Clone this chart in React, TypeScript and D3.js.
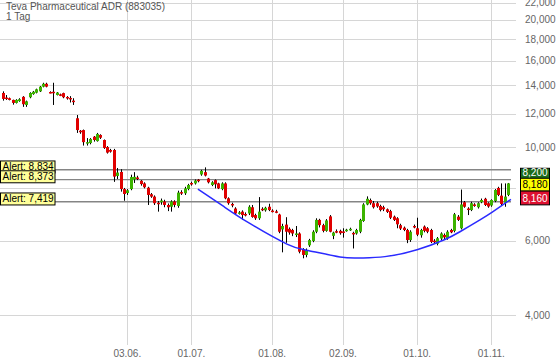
import * as d3 from "d3";

const opens = [
  13.43, 13.1, 13.05, 12.93, 12.72, 12.85, 13.15, 12.58, 13.12, 13.35, 13.45, 13.55, 13.9, 14.12, 13.5, 13.52,
  13.28, 13.33, 13.42, 13.14, 13.07, 12.88, 11.7, 10.93, 10.97, 10.25, 10.22, 10.58, 10.33, 10.68, 10.39, 10.0,
  9.84, 9.84, 8.54, 8.73, 7.95, 7.78, 7.95, 8.38, 8.47, 8.32, 8.2, 8.01, 7.73, 7.63, 7.38, 7.4,
  7.43, 7.29, 7.22, 7.43, 7.25, 7.82, 7.77, 7.95, 8.22, 8.2, 8.37, 8.61, 8.72, 8.42, 8.13, 8.35,
  8.2, 7.95, 8.2, 7.56, 7.33, 7.15, 6.97, 7.03, 6.94, 6.96, 7.2, 6.9, 6.78, 7.14, 7.08, 7.22,
  7.07, 7.04, 6.92, 6.38, 6.55, 6.4, 6.36, 6.22, 6.24, 5.72, 5.55, 5.85, 5.99, 6.3, 6.72, 6.53,
  6.33, 6.85, 6.16, 6.32, 6.33, 6.31, 6.34, 6.38, 6.26, 6.24, 6.3, 6.68, 7.31, 7.49, 7.36, 7.36,
  7.25, 7.2, 7.12, 7.05, 6.84, 6.78, 6.53, 6.44, 6.36, 6.02, 6.5, 6.42, 6.18, 6.48, 6.42, 6.36,
  6.0, 5.9, 6.07, 6.19, 6.08, 6.36, 6.33, 6.84, 6.42, 7.4, 7.15, 7.09, 7.31, 7.2, 7.4, 7.54,
  7.36, 7.27, 7.45, 8.0, 7.67, 7.38, 7.7,
];
const highs = [
  13.55, 13.28, 13.1, 12.95, 12.98, 13.05, 13.2, 12.88, 13.48, 13.58, 13.75, 13.95, 14.2, 14.2, 13.55, 14.2,
  13.5, 13.38, 13.45, 13.2, 13.2, 13.05, 11.91, 10.97, 11.0, 10.5, 10.5, 10.62, 10.8, 10.72, 10.42, 10.05,
  9.9, 9.9, 8.92, 8.86, 8.0, 7.95, 8.6, 8.72, 8.55, 8.35, 8.25, 8.05, 7.78, 7.68, 7.45, 7.55,
  7.5, 7.35, 7.48, 7.48, 7.88, 7.9, 8.05, 8.18, 8.28, 8.38, 8.4, 8.83, 8.95, 8.45, 8.3, 8.38,
  8.23, 8.25, 8.25, 7.6, 7.38, 7.2, 7.05, 7.08, 7.0, 7.28, 7.29, 6.95, 7.61, 7.2, 7.22, 7.34,
  7.12, 7.1, 6.95, 6.58, 6.82, 6.45, 6.4, 6.5, 6.28, 5.76, 5.75, 6.06, 6.35, 6.78, 6.76, 6.58,
  6.75, 6.9, 6.3, 6.38, 6.37, 6.42, 6.4, 6.44, 6.3, 6.4, 6.76, 7.36, 7.64, 7.55, 7.45, 7.42,
  7.3, 7.26, 7.15, 7.1, 6.88, 6.82, 6.58, 6.48, 6.4, 6.35, 6.55, 6.8, 6.4, 6.52, 6.46, 6.4,
  6.05, 6.12, 6.28, 6.24, 6.35, 6.4, 6.98, 6.9, 7.93, 7.45, 7.2, 7.42, 7.36, 7.4, 7.55, 7.58,
  7.4, 7.52, 7.95, 8.05, 8.2, 8.2, 8.22,
];
const lows = [
  12.88, 12.93, 12.9, 12.6, 12.68, 12.8, 12.45, 12.45, 13.05, 13.3, 13.4, 13.5, 13.85, 13.85, 13.4, 12.58,
  13.25, 13.2, 13.05, 12.95, 12.75, 12.58, 10.8, 10.75, 10.08, 10.08, 10.15, 10.3, 10.3, 10.45, 9.9, 9.65,
  9.7, 8.27, 8.4, 7.84, 7.46, 7.7, 7.9, 8.22, 8.35, 8.1, 7.98, 7.29, 7.58, 7.29, 7.03, 7.3,
  7.2, 7.05, 7.03, 7.2, 7.18, 7.7, 7.7, 7.9, 8.1, 8.15, 8.25, 8.55, 8.52, 8.2, 8.08, 7.98,
  7.95, 7.9, 7.52, 7.3, 7.2, 6.9, 6.92, 6.72, 6.85, 6.9, 6.8, 6.72, 6.72, 7.05, 7.03, 7.05,
  7.0, 6.97, 6.25, 5.63, 5.93, 6.2, 6.15, 6.12, 5.6, 5.45, 5.48, 5.8, 5.95, 6.25, 6.45, 6.28,
  6.3, 6.28, 6.05, 6.25, 6.2, 6.1, 6.3, 6.33, 5.75, 6.2, 6.25, 6.65, 7.28, 7.3, 7.15, 7.18,
  7.04, 7.05, 6.98, 6.75, 6.68, 6.42, 6.36, 6.32, 5.92, 5.96, 6.42, 6.15, 6.1, 6.28, 6.25, 5.92,
  5.92, 5.85, 6.02, 6.05, 6.03, 6.25, 6.28, 6.68, 6.38, 7.18, 6.9, 7.05, 7.22, 7.15, 7.36, 7.25,
  7.18, 7.22, 7.4, 7.65, 7.25, 7.22, 7.65,
];
const closes = [
  13.0, 13.05, 12.93, 12.72, 12.93, 12.98, 12.63, 12.83, 13.43, 13.52, 13.7, 13.9, 14.12, 13.9, 13.46, 13.42,
  13.46, 13.28, 13.12, 13.1, 13.03, 12.83, 10.97, 10.9, 10.27, 10.27, 10.45, 10.39, 10.74, 10.52, 9.95, 9.7,
  9.75, 8.51, 8.7, 7.95, 7.74, 7.9, 8.49, 8.5, 8.4, 8.17, 8.03, 7.7, 7.63, 7.36, 7.35, 7.47,
  7.29, 7.2, 7.43, 7.29, 7.8, 7.78, 7.98, 8.13, 8.19, 8.33, 8.3, 8.78, 8.56, 8.25, 8.25, 8.16,
  7.98, 8.2, 7.56, 7.36, 7.27, 6.96, 7.0, 6.9, 6.92, 7.22, 6.83, 6.78, 7.03, 7.12, 7.18, 7.09,
  7.05, 7.02, 6.3, 6.5, 6.3, 6.27, 6.24, 6.24, 5.65, 5.55, 5.7, 6.02, 6.3, 6.72, 6.53, 6.33,
  6.7, 6.3, 6.27, 6.3, 6.25, 6.29, 6.37, 6.4, 6.22, 6.36, 6.72, 7.31, 7.54, 7.36, 7.2, 7.23,
  7.09, 7.12, 7.02, 6.8, 6.72, 6.56, 6.41, 6.36, 6.02, 6.3, 6.48, 6.2, 6.36, 6.33, 6.3, 5.96,
  5.98, 6.08, 6.24, 6.11, 6.3, 6.28, 6.93, 6.72, 7.31, 7.22, 7.13, 7.36, 7.27, 7.36, 7.49, 7.29,
  7.23, 7.49, 7.91, 7.7, 7.33, 7.63, 8.2,
];

// trading-day index of each date label
const tickIndex = [37, 56, 80, 101, 123, 145];
const tickLabels = ["03.06.", "01.07.", "01.08.", "02.09.", "01.10.", "01.11."];
const priceTicks = [4, 6, 8, 10, 12, 14, 16, 18, 20, 22];
const hiddenPriceLabels = [8];
const alertLevels = [8.834, 8.373, 7.419];
const quoteValues = [8.2, 8.18, 8.16];

// hand-drawn cup arc
const arcIndex = [57.95, 65.37, 73.09, 84.36, 90.6, 100.09, 106.03, 113.44, 123.2, 131.25, 135.7, 141.64, 145.5, 150.83];
const arcPrice = [7.95, 7.25, 6.61, 5.89, 5.69, 5.49, 5.46, 5.5, 5.72, 6.04, 6.3, 6.72, 7.03, 7.52];

const W = 560;
const H = 362;
const plotRight = 516;
const plotBottom = 345;
const font = "Arial, 'Liberation Sans', sans-serif";

const fmt = (v: number) => v.toFixed(3).replace(".", ",");

export default function App() {
  const x = d3.scaleLinear().domain([37, 145]).range([127.3, 491.3]);
  const y = d3.scaleLog().domain([4, 22]).range([315, 2.5]);
  const crisp = (v: number) => Math.round(v) + 0.5;

  const arcLine = d3
    .line<number>()
    .x((d) => x(d))
    .y((_, i) => y(arcPrice[i]))
    .curve(d3.curveNatural);

  const quoteY = y(quoteValues[1]);
  const yTop = quoteY - 5.6;
  const yBot = quoteY + 7;

  return (
    <svg
      width={W}
      height={H}
      style={{ position: "absolute", left: 0, top: 0, background: "#fff" }}
      fontFamily={font}
    >
      <rect width={W} height={H} fill="#fff" />

      {/* grid */}
      {priceTicks.map((t) => (
        <line key={"h" + t} x1={0} x2={plotRight} y1={crisp(y(t))} y2={crisp(y(t))} stroke="#d6d6d6" />
      ))}
      {tickIndex.map((t) => (
        <line key={"v" + t} x1={crisp(x(t))} x2={crisp(x(t))} y1={0} y2={plotBottom} stroke="#d6d6d6" />
      ))}

      {/* price axis labels */}
      {priceTicks
        .filter((t) => !hiddenPriceLabels.includes(t))
        .map((t) => (
          <text key={"yl" + t} x={525} y={y(t) + 3.5} fontSize={10} fill="#666">
            {fmt(t)}
          </text>
        ))}

      {/* date labels */}
      {tickIndex.map((t, i) => (
        <text key={"xl" + t} x={x(t)} y={357} fontSize={10} fill="#666" textAnchor="middle">
          {tickLabels[i]}
        </text>
      ))}

      {/* alert lines */}
      {alertLevels.map((a) => (
        <line key={"al" + a} x1={0} x2={511} y1={y(a)} y2={y(a)} stroke="#858585" strokeWidth={1.4} />
      ))}

      {/* candles */}
      {closes.map((c, i) => {
        const o = opens[i];
        const cx = Math.round(x(i));
        const up = c >= o;
        const top = y(Math.max(o, c));
        const h = Math.max(1.5, y(Math.min(o, c)) - top);
        return (
          <g key={"c" + i}>
            <line x1={cx + 0.5} x2={cx + 0.5} y1={y(highs[i])} y2={y(lows[i])} stroke="#000" />
            <rect x={cx - 1} y={top} width={3} height={h} fill={up ? "#3cb300" : "#e00000"} />
          </g>
        );
      })}

      {/* arc */}
      <path d={arcLine(arcIndex) ?? ""} fill="none" stroke="#2a2aff" strokeWidth={1.5} />

      {/* alert boxes */}
      {alertLevels.map((a) => (
        <g key={"ab" + a}>
          <rect x={0.5} y={y(a) - 8.8} width={54.5} height={12} fill="#ffff99" stroke="#000" />
          <text x={2.5} y={y(a) + 0.5} fontSize={10} fill="#000">
            {"Alert: " + fmt(a)}
          </text>
        </g>
      ))}

      {/* quote boxes */}
      <rect x={520.5} y={yTop - 10} width={29} height={13} fill="#1b6b1b" stroke="#000" />
      <text x={535} y={yTop - 2.3} fontSize={10} fill="#fff" textAnchor="middle">
        {fmt(quoteValues[0])}
      </text>
      <rect x={520.5} y={yBot} width={29} height={14} fill="#dd1030" stroke="#000" />
      <text x={535} y={yBot + 10.7} fontSize={10} fill="#fff" textAnchor="middle">
        {fmt(quoteValues[2])}
      </text>
      <rect x={520.5} y={yTop} width={29} height={yBot - yTop} fill="#ffff00" stroke="#000" />
      <text x={535} y={yBot - 2.7} fontSize={10} fill="#000" textAnchor="middle">
        {fmt(quoteValues[1])}
      </text>

      {/* title */}
      <text x={6} y={10} fontSize={10} fill="#555">
        Teva Pharmaceutical ADR (883035)
      </text>
      <text x={6} y={19.5} fontSize={10} fill="#555">
        1 Tag
      </text>
    </svg>
  );
}
